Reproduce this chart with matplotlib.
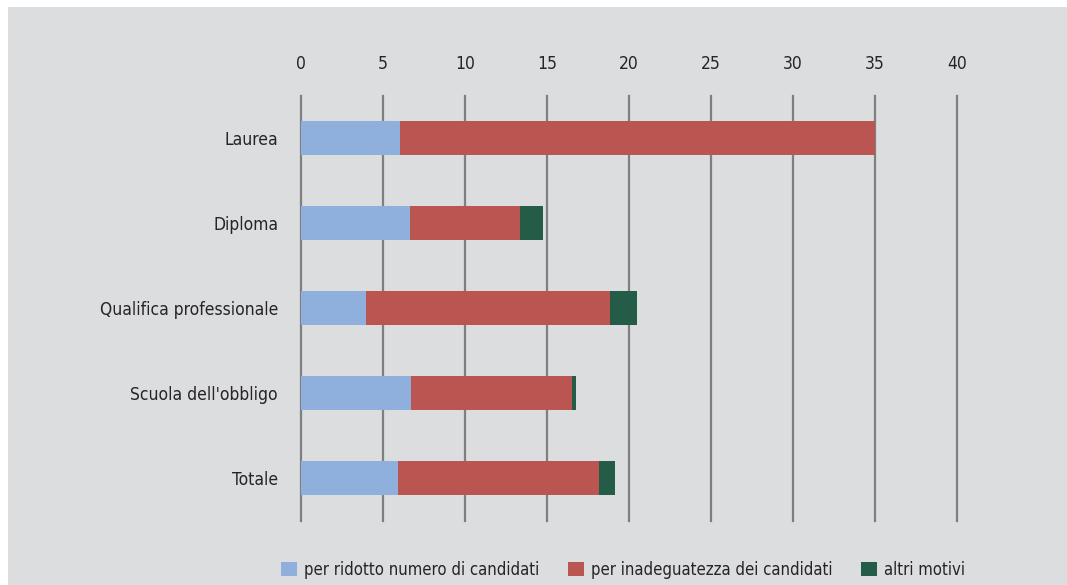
import matplotlib
matplotlib.use("Agg")
import matplotlib.pyplot as plt
from matplotlib.patches import Rectangle
import numpy as np

categories = ["Laurea", "Diploma", "Qualifica professionale", "Scuola dell'obbligo", "Totale"]
ridotto = [6.05, 6.65, 3.98, 6.69, 5.91]
inadeguatezza = [28.95, 6.69, 14.86, 9.83, 12.29]
altri = [0.0, 1.41, 1.63, 0.23, 0.94]
series_names = ["per ridotto numero di candidati", "per inadeguatezza dei candidati", "altri motivi"]
xticks = [0, 5, 10, 15, 20, 25, 30, 35, 40]

plt.rcParams['font.family'] = ['DejaVu Sans']
plt.rcParams['font.stretch'] = 'condensed'

W, H = 1067, 585
fig = plt.figure(figsize=(W / 100, H / 100), dpi=100)
fig.patch.set_facecolor("white")
bg = "#dcdddf"
fig.patches.append(Rectangle((8 / W, 0), 1 - 8 / W, 1 - 7 / H, transform=fig.transFigure,
                             facecolor=bg, edgecolor="none", zorder=-10))

ax = fig.add_axes([301 / W, 1 - 520.5 / H, 656 / W, 425 / H])
ax.set_facecolor("none")

colors = ["#8fb0dc", "#bb5552", "#255c48"]
y = np.arange(len(categories))
left = np.zeros(len(categories))
handles = []
for vals, c, name in zip([ridotto, inadeguatezza, altri], colors, series_names):
    b = ax.barh(y, vals, left=left, height=0.39, color=c, label=name, zorder=3)
    handles.append(b)
    left = left + np.array(vals)

fs = 12.5
txt = "#262425"
ax.set_xlim(0, 40)
ax.set_ylim(len(categories) - 0.5, -0.5)
ax.set_yticks(y)
ax.set_yticklabels(categories, fontsize=fs, color=txt)
ax.set_xticks(xticks)
ax.set_xticklabels([str(t) for t in xticks], fontsize=fs, color=txt)
ax.xaxis.tick_top()
ax.tick_params(axis="both", length=0)
ax.tick_params(axis="x", pad=16.5)
ax.tick_params(axis="y", pad=16.5)
for xv in xticks:
    ax.axvline(xv, color="#7f7f7f", linewidth=1.6, zorder=1, clip_on=False)
for s in ax.spines.values():
    s.set_visible(False)

leg = fig.legend(handles=handles, labels=series_names, loc="center", ncol=3,
                 bbox_to_anchor=(623 / W, 1 - 570 / H), frameon=False,
                 fontsize=12, handlelength=0.95, handleheight=0.95,
                 handletextpad=0.4, columnspacing=1.75)
for t in leg.get_texts():
    t.set_color(txt)

fig.savefig("out.png", dpi=100, facecolor=fig.get_facecolor())
